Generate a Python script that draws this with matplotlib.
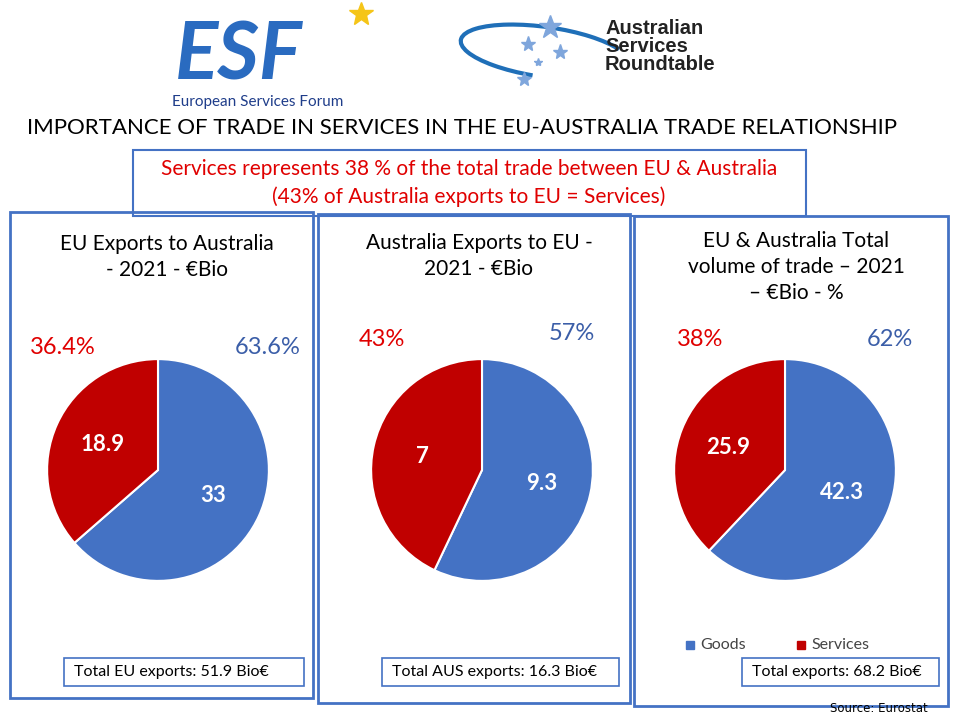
import matplotlib
matplotlib.use("Agg")
import matplotlib.pyplot as plt
import matplotlib.patches as mpatches
import numpy as np

# --- Data ---
titles = ["EU Exports to Australia\n- 2021 - €Bio",
          "Australia Exports to EU -\n2021 - €Bio",
          "EU & Australia Total\nvolume of trade – 2021\n– €Bio - %"]
goods = [33, 9.3, 42.3]
services = [18.9, 7, 25.9]
goods_pct = ["63.6%", "57%", "62%"]
services_pct = ["36.4%", "43%", "38%"]
totals = ["Total EU exports: 51.9 Bio€", "Total AUS exports: 16.3 Bio€",
          "Total exports: 68.2 Bio€"]

BLUE = "#4472C4"
RED = "#C00000"
W, H = 960, 720
plt.rcParams["font.family"] = "Lato"

fig = plt.figure(figsize=(9.6, 7.2), dpi=100)
bg = fig.add_axes([0, 0, 1, 1])
bg.set_xlim(0, W)
bg.set_ylim(H, 0)
bg.axis("off")

# --- Logos (approximate) ---
bg.text(175, 56, "ESF", fontsize=58, fontweight="bold", style="italic",
        color="#2a6bc0", ha="left", va="center")
bg.plot([361], [14], marker="*", markersize=18, color="#f5c518")
bg.text(172, 102, "European Services Forum", fontsize=11, color="#1f3d8a",
        ha="left", va="center")
arc = mpatches.Arc((545, 52), 170, 50, angle=8, theta1=110, theta2=350,
                   color="#1f6fb8", linewidth=3)
bg.add_patch(arc)
for sx, sy, ss in [(550, 27, 17), (528, 44, 11), (560, 52, 11), (538, 62, 6), (524, 79, 10)]:
    bg.plot([sx], [sy], marker="*", markersize=ss, color="#7fa6dc")
for i, word in enumerate(["Australian", "Services", "Roundtable"]):
    bg.text(605, 29 + i * 18, word, fontsize=14.5, fontweight="bold",
            color="#222222", ha="left", va="center", fontfamily="Liberation Sans")

bg.text(462, 128, "IMPORTANCE OF TRADE IN SERVICES IN THE EU-AUSTRALIA TRADE RELATIONSHIP",
        fontsize=16, ha="center", va="center", color="black")

bg.add_patch(mpatches.Rectangle((133, 150), 673, 66, fill=False, ec=BLUE, lw=1.5))
bg.text(469, 183, "Services represents 38 % of the total trade between EU & Australia\n"
        "(43% of Australia exports to EU = Services)", fontsize=15, color="#e00000",
        ha="center", va="center", linespacing=1.4)

boxes = [(10, 212, 303, 486), (318, 214, 312, 489), (634, 216, 314, 490)]
centers = [(158, 470), (482, 470), (785, 470)]
radius = 112
title_y = [257, 256, 267]
pct_pos = [((63, 348), (268, 348)), ((382, 340), (572, 333)), ((700, 340), (890, 340))]
tot_pos = [(64, 658, 240), (382, 658, 237), (742, 658, 197)]

for k in range(3):
    x0, y0, bw, bh = boxes[k]
    bg.add_patch(mpatches.Rectangle((x0, y0), bw, bh, fill=False, ec=BLUE, lw=2))
    bg.text(x0 + bw / 2 + 5, title_y[k], titles[k], fontsize=15, ha="center",
            va="center", linespacing=1.4)
    (sx, sy), (gx, gy) = pct_pos[k]
    bg.text(sx, sy, services_pct[k], fontsize=17, color="#e00000", ha="center", va="center")
    bg.text(gx, gy, goods_pct[k], fontsize=17, color="#3b5ea8", ha="center", va="center")
    tx, ty, tw = tot_pos[k]
    bg.add_patch(mpatches.Rectangle((tx, ty), tw, 28, fill=False, ec=BLUE, lw=1.2))
    bg.text(tx + 10, ty + 14, totals[k], fontsize=11.5, ha="left", va="center")

    cx, cy = centers[k]
    ax = fig.add_axes([(cx - radius) / W, 1 - (cy + radius) / H, 2 * radius / W, 2 * radius / H])
    vals = [goods[k], services[k]]
    ax.pie(vals, colors=[BLUE, RED], startangle=90, counterclock=False,
           labels=[f"{v:g}" for v in vals], labeldistance=0.55,
           wedgeprops=dict(edgecolor="white", linewidth=1.5),
           textprops=dict(color="white", fontsize=16, fontweight="bold",
                          ha="center", va="center"))
    ax.set_xlim(-1.01, 1.01)
    ax.set_ylim(-1.01, 1.01)
    ax.set_aspect("equal")

# legend
bg.plot([690], [645], marker="s", markersize=6, color=BLUE)
bg.text(700, 645, "Goods", fontsize=11.5, va="center", color="#444444")
bg.plot([801], [645], marker="s", markersize=6, color=RED)
bg.text(811, 645, "Services", fontsize=11.5, va="center", color="#444444")

bg.text(928, 708, "Source: Eurostat", fontsize=8.5, ha="right", va="center",
        fontfamily="DejaVu Sans")

fig.savefig("out.png", dpi=100)
